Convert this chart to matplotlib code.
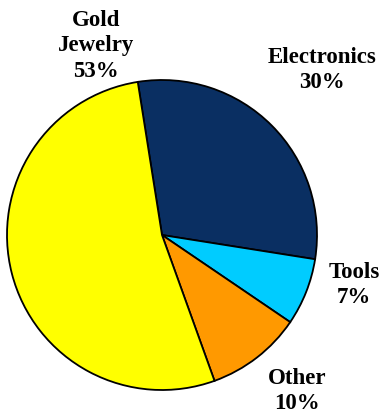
import matplotlib.pyplot as plt

labels = ['Electronics', 'Tools', 'Other', 'Gold\nJewelry']
shares = [30, 7, 10, 53]
colors = ['#0a2f62', '#00ccff', '#ff9900', '#ffff00']
# label positions in pixel coords (x, y from top)
label_pos = [(322, 70), (354, 285), (297, 391), (96, 46)]

W, H = 382, 418
fig = plt.figure(figsize=(W / 100, H / 100), dpi=100)
ax = fig.add_axes([0, 0, 1, 1])

ax.pie(shares, colors=colors, startangle=99, counterclock=False,
       center=(162, H - 235), radius=155,
       wedgeprops=dict(edgecolor='black', linewidth=1.3))
ax.set_xlim(0, W)
ax.set_ylim(0, H)
ax.set_aspect('equal')
ax.axis('off')

for lab, val, (x, y) in zip(labels, shares, label_pos):
    ax.text(x, H - y, f'{lab}\n{val}%', ha='center', va='center',
            fontsize=16.5, fontweight='bold', family='Liberation Serif',
            linespacing=1.3)

fig.savefig('out.png', dpi=100)
